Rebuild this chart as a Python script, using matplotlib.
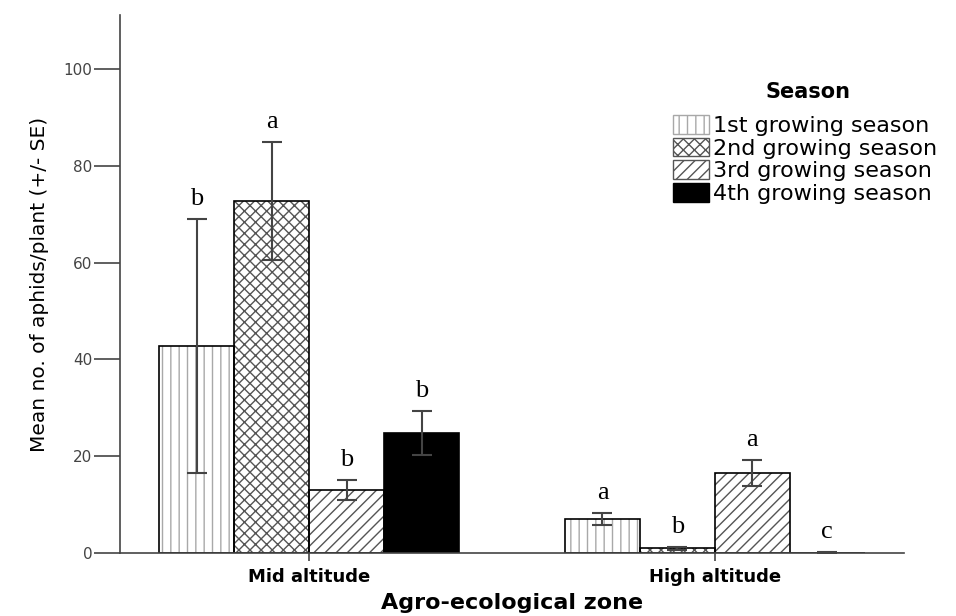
import matplotlib
matplotlib.use("Agg")
import matplotlib.pyplot as plt
import numpy as np
from matplotlib.patches import Patch

zones = ["Mid altitude", "High altitude"]
seasons = ["1st growing season", "2nd growing season",
           "3rd growing season", "4th growing season"]
means = [
    [42.8, 7.0],    # 1st
    [72.7, 1.0],    # 2nd
    [13.0, 16.5],   # 3rd
    [24.8, 0.1],    # 4th
]
errors = [
    [26.2, 1.3],
    [12.2, 0.3],
    [2.1, 2.7],
    [4.5, 0.05],
]
letters = [
    ["b", "a"],
    ["a", "b"],
    ["b", "a"],
    ["b", "c"],
]

hatches = ["||", "xxx", "///", None]
hatch_colors = ["#a8a8a8", "#555555", "#555555", "black"]
faces = ["white", "white", "white", "black"]

plt.rcParams["hatch.linewidth"] = 1.0

fig = plt.figure(figsize=(9.56, 6.16), dpi=100)
ax = fig.add_axes([120 / 956, 63 / 616, 784 / 956, 538 / 616])

x = np.arange(len(zones))
w = 0.1847
for i in range(4):
    pos = x + (i - 1.5) * w
    ax.bar(pos, means[i], w, color=faces[i], edgecolor=hatch_colors[i],
           hatch=hatches[i], linewidth=0, zorder=2)
    ax.bar(pos, means[i], w, fill=False, edgecolor="black",
           linewidth=1.2, zorder=3)
    ax.errorbar(pos, means[i], yerr=errors[i], fmt="none", ecolor="#444444",
                elinewidth=1.5, capsize=7, capthick=1.5, zorder=4)
    for j in range(len(zones)):
        ax.annotate(letters[i][j], (pos[j], means[i][j] + errors[i][j]),
                    xytext=(0, 10), textcoords="offset points",
                    ha="center", va="baseline", fontsize=19,
                    family="Liberation Serif")

ax.set_xlim(-0.466, 1.466)
ax.set_ylim(0, 111.2)
ax.spines["top"].set_visible(False)
ax.spines["right"].set_visible(False)
for s in ["left", "bottom"]:
    ax.spines[s].set_color("#444444")
    ax.spines[s].set_linewidth(1.2)
    ax.spines[s].set_zorder(5)

ax.set_yticks(np.arange(0, 101, 20))
ax.tick_params(axis="y", length=19, width=1.2, color="#444444", pad=1,
               labelsize=11, labelcolor="#444444")
ax.set_xticks(x)
ax.set_xticklabels(zones, fontweight="bold", fontsize=13)
ax.tick_params(axis="x", length=6, width=1.2, color="#444444", pad=5)

ax.set_ylabel("Mean no. of aphids/plant (+/- SE)", fontsize=14.5,
              labelpad=10)
ax.set_xlabel("Agro-ecological zone", fontweight="bold", fontsize=16,
              labelpad=5)

# legend title drawn separately so the gap under it can be set
fig.text(808 / 956, 1 - 92 / 616, "Season", ha="center", va="center",
         fontweight="bold", fontsize=15)
handles = [Patch(facecolor=faces[i], edgecolor=hatch_colors[i],
                 hatch=hatches[i]) for i in range(4)]
leg = ax.legend(handles, seasons, loc="upper left",
                bbox_to_anchor=(662 / 956, 1 - 104 / 616),
                bbox_transform=fig.transFigure, frameon=False,
                fontsize=16, handlelength=1.6, handleheight=0.9,
                handletextpad=0.2, labelspacing=0.08, borderpad=0)
for p in leg.get_patches():
    p.set_linewidth(1.0)

fig.savefig("out.png", dpi=100)
